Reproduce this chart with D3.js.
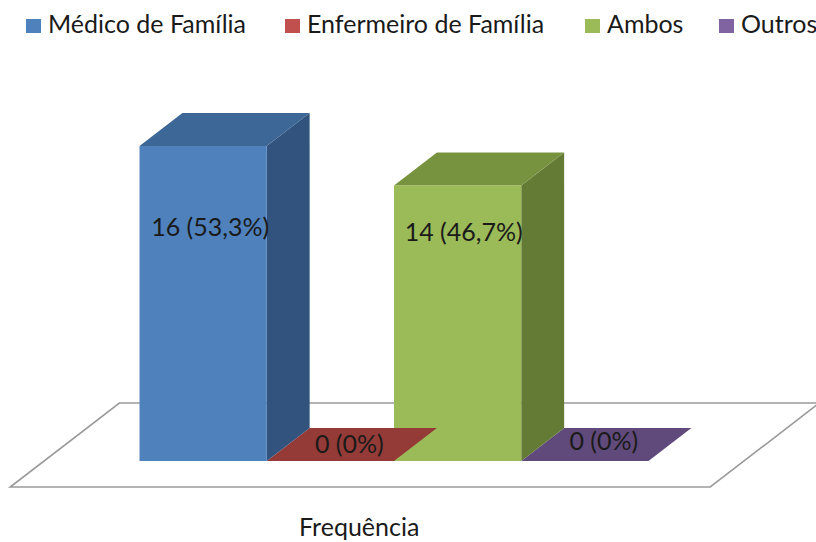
<!DOCTYPE html>
<html>
<head>
<meta charset="utf-8">
<script src="https://cdn.jsdelivr.net/npm/d3@7"></script>
<style>
  html, body { margin: 0; padding: 0; background: #fff; }
  svg { display: block; }
  text { font-family: Lato, "Open Sans", sans-serif; fill: #1a1a1a; }
</style>
</head>
<body>
<svg id="chart" width="816" height="542"></svg>
<script>
// ---- data ----
const categories = ["Frequência"];
const seriesNames = ["Médico de Família", "Enfermeiro de Família", "Ambos", "Outros"];
const seriesValues = [16, 0, 14, 0];
const frontColors = ["#4F81BD", "#C0504D", "#9BBB59", "#8064A2"];
const topColors   = ["#3D6796", "#943B38", "#78933F", "#604A7B"];
const sideColors  = ["#32537D", "#7E302E", "#647B35", "#4F3D66"];

// ---- layout ----
const W = 816, H = 542;
const svg = d3.select("#chart");
const total = d3.sum(seriesValues);
const fmtPct = v => {
  const p = Math.round(v / total * 1000) / 10;
  return (Number.isInteger(p) ? p.toFixed(0) : p.toFixed(1)).replace(".", ",") + "%";
};

const baseY = 461;                 // front bottom of bars
const depthX = 1.3, depthY = -1;   // oblique projection per depth unit
const barDepth = 33;
const floorFront = -26, floorBack = 58;
const fs = 25;

const xCat = d3.scaleBand().domain(categories).range([44, 744]).paddingInner(0.158).paddingOuter(0.158);
const xSer = d3.scaleBand().domain(seriesNames).range([0, xCat.bandwidth()]);
const y = d3.scaleLinear().domain([0, 16]).range([baseY, 146]);

const P = (x, yy, d) => [x + d * depthX, yy + d * depthY];
const poly = pts => "M" + pts.map(p => p.join(",")).join("L") + "Z";

// floor
const fx0 = xCat.range()[0], fx1 = xCat.range()[1];
svg.append("path")
  .attr("d", poly([P(fx0, baseY, floorFront), P(fx1, baseY, floorFront), P(fx1, baseY, floorBack), P(fx0, baseY, floorBack)]))
  .attr("fill", "#fff").attr("stroke", "#9a9a9a").attr("stroke-width", 1.6);

// bars (right to left so left side faces overlap)
const bars = seriesNames.map((s, i) => ({ s, i, v: seriesValues[i], cat: categories[0] }));
const g = svg.append("g");
bars.slice().reverse().forEach(b => {
  const x0 = xCat(b.cat) + xSer(b.s), x1 = x0 + xSer.bandwidth();
  const yt = y(b.v), yb = y(0);
  if (b.v > 0) {
    g.append("path").attr("d", poly([P(x1, yt, 0), P(x1, yt, barDepth), P(x1, yb, barDepth), P(x1, yb, 0)]))
      .attr("fill", sideColors[b.i]);
  }
  g.append("path").attr("d", poly([P(x0, yt, 0), P(x1, yt, 0), P(x1, yt, barDepth), P(x0, yt, barDepth)]))
    .attr("fill", topColors[b.i]);
  if (b.v > 0) {
    g.append("rect").attr("x", x0).attr("y", yt).attr("width", x1 - x0).attr("height", yb - yt)
      .attr("fill", frontColors[b.i]);
  }
});

// data labels
const maxV = d3.max(seriesValues);
bars.forEach(b => {
  const x0 = xCat(b.cat) + xSer(b.s);
  const cx = x0 + xSer.bandwidth() / 2;
  let lx, ly;
  if (b.v > 0) { lx = cx + 7 + (maxV - b.v) * -0.5; ly = y(maxV) + 90 + (maxV - b.v) * 2.5; }
  else { lx = cx + 19; ly = baseY - 8 - (b.i === 3 ? 3 : 0); }
  svg.append("text").attr("x", lx).attr("y", ly).attr("text-anchor", "middle")
    .attr("font-size", fs).text(`${b.v} (${fmtPct(b.v)})`);
});

// legend
const legendX = [26, 285, 585, 719];
const leg = svg.append("g");
seriesNames.forEach((s, i) => {
  leg.append("rect").attr("x", legendX[i]).attr("y", 19).attr("width", 15).attr("height", 14).attr("fill", frontColors[i]);
  leg.append("text").attr("x", legendX[i] + 22).attr("y", 33).attr("font-size", fs).text(s);
});

// category axis label
svg.append("text").attr("x", (fx0 + fx1) / 2 + floorFront * depthX - 1).attr("y", 536).attr("text-anchor", "middle")
  .attr("font-size", fs).text(categories[0]);
</script>
</body>
</html>
